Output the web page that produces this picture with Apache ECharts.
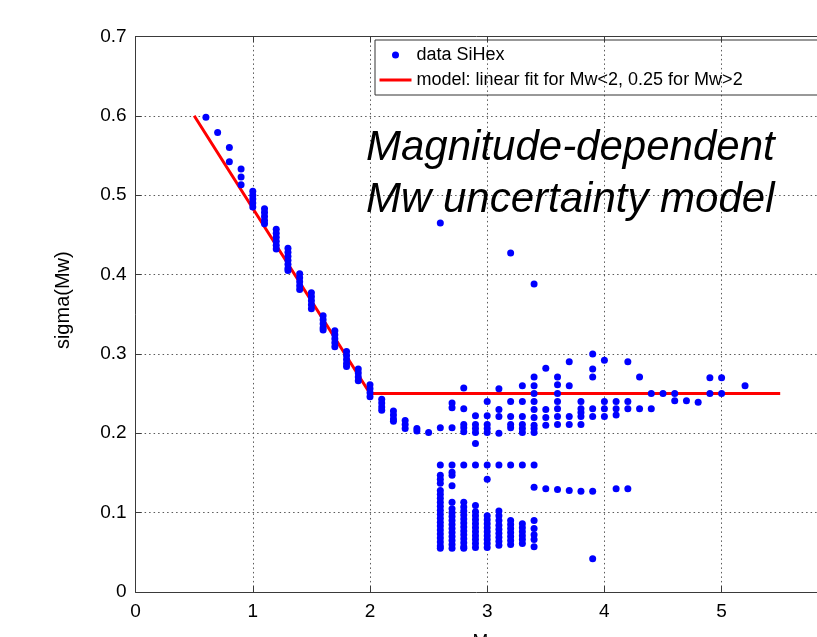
<!DOCTYPE html>
<html>
<head>
<meta charset="utf-8">
<script src="https://cdn.jsdelivr.net/npm/echarts@6/dist/echarts.min.js"></script>
<style>
html,body{margin:0;padding:0;background:#fff;}
#chart{width:817px;height:637px;}
</style>
</head>
<body>
<div id="chart"></div>
<script>
// Mw value of each data column
const mwColumns = [0.6, 0.7, 0.8, 0.9, 1.0, 1.1, 1.2, 1.3, 1.4, 1.5, 1.6, 1.7, 1.8, 1.9, 2.0,
  2.1, 2.2, 2.3, 2.4, 2.5, 2.6, 2.7, 2.8, 2.9, 3.0, 3.1, 3.2, 3.3, 3.4, 3.5, 3.6, 3.7, 3.8, 3.9,
  4.0, 4.1, 4.2, 4.3, 4.4, 4.5, 4.6, 4.7, 4.8, 4.9, 5.0, 5.2];
// sigma(Mw) values observed in each column
const sigmaColumns = [
  [0.598],
  [0.579],
  [0.560, 0.542],
  [0.533, 0.523, 0.513],
  [0.505, 0.500, 0.495, 0.490, 0.485],
  [0.483, 0.478, 0.473, 0.468, 0.464],
  [0.457, 0.452, 0.447, 0.442, 0.437, 0.432],
  [0.433, 0.428, 0.423, 0.418, 0.413, 0.408, 0.405],
  [0.401, 0.396, 0.391, 0.386, 0.381],
  [0.377, 0.372, 0.367, 0.362, 0.357],
  [0.348, 0.343, 0.338, 0.333, 0.330],
  [0.329, 0.324, 0.319, 0.314, 0.309],
  [0.303, 0.298, 0.293, 0.288, 0.284],
  [0.281, 0.276, 0.271, 0.266],
  [0.261, 0.256, 0.251, 0.246],
  [0.243, 0.238, 0.233, 0.229],
  [0.228, 0.223, 0.218, 0.215],
  [0.216, 0.211, 0.206],
  [0.206, 0.203],
  [0.201],
  [0.465, 0.207, 0.160, 0.147, 0.142, 0.137, 0.128, 0.123, 0.118, 0.113, 0.108, 0.103, 0.098, 0.093, 0.088, 0.083, 0.078, 0.073, 0.068, 0.063, 0.058, 0.055],
  [0.238, 0.232, 0.207, 0.160, 0.151, 0.147, 0.134, 0.113, 0.105, 0.100, 0.095, 0.090, 0.085, 0.080, 0.075, 0.070, 0.065, 0.060, 0.055],
  [0.257, 0.231, 0.211, 0.207, 0.202, 0.160, 0.113, 0.107, 0.102, 0.097, 0.092, 0.087, 0.082, 0.077, 0.072, 0.067, 0.062, 0.057, 0.055],
  [0.222, 0.211, 0.206, 0.201, 0.187, 0.160, 0.109, 0.101, 0.096, 0.091, 0.086, 0.081, 0.076, 0.071, 0.066, 0.061, 0.056],
  [0.240, 0.222, 0.211, 0.206, 0.201, 0.160, 0.142, 0.096, 0.091, 0.086, 0.081, 0.076, 0.071, 0.066, 0.061, 0.056],
  [0.256, 0.230, 0.221, 0.200, 0.160, 0.102, 0.096, 0.090, 0.084, 0.079, 0.074, 0.069, 0.064, 0.059],
  [0.427, 0.240, 0.221, 0.211, 0.207, 0.160, 0.090, 0.085, 0.080, 0.075, 0.070, 0.065, 0.060],
  [0.260, 0.240, 0.221, 0.211, 0.206, 0.201, 0.160, 0.086, 0.081, 0.076, 0.071, 0.066, 0.061],
  [0.388, 0.271, 0.260, 0.250, 0.240, 0.230, 0.220, 0.210, 0.206, 0.201, 0.160, 0.132, 0.090, 0.080, 0.072, 0.066, 0.057],
  [0.282, 0.230, 0.220, 0.210, 0.130],
  [0.271, 0.261, 0.250, 0.240, 0.231, 0.221, 0.211, 0.129],
  [0.290, 0.260, 0.221, 0.211, 0.128],
  [0.240, 0.231, 0.226, 0.221, 0.211, 0.127],
  [0.300, 0.281, 0.271, 0.231, 0.221, 0.127, 0.042],
  [0.292, 0.240, 0.231, 0.221],
  [0.240, 0.231, 0.223, 0.130],
  [0.290, 0.240, 0.231, 0.130],
  [0.271, 0.231],
  [0.250, 0.231],
  [0.250],
  [0.250, 0.241],
  [0.241],
  [0.239],
  [0.270, 0.250],
  [0.270, 0.250],
  [0.260]
];
// model: linear fit for Mw<2, 0.25 for Mw>2
const modelMw = [0.5, 2.0, 5.5];
const modelSigma = [0.6, 0.25, 0.25];
// axis ticks
const xTicks = [0, 1, 2, 3, 4, 5, 6];
const yTicks = [0, 0.1, 0.2, 0.3, 0.4, 0.5, 0.6, 0.7];

const scatterData = [];
mwColumns.forEach((mw, i) => sigmaColumns[i].forEach(s => scatterData.push([mw, s])));
const modelData = modelMw.map((m, i) => [m, modelSigma[i]]);

const FONT = "'Liberation Sans', Arial, Helvetica, sans-serif";
const gridLine = { show: true, lineStyle: { color: '#5a5a5a', width: 1, type: [1.5, 3] } };
const axisLineStyle = { show: true, lineStyle: { color: '#3a3a3a', width: 1 } };
const tickStyle = { show: true, inside: true, length: 6, lineStyle: { color: '#3a3a3a' } };

const chart = echarts.init(document.getElementById('chart'), null, { renderer: 'canvas' });
chart.setOption({
  animation: false,
  backgroundColor: '#ffffff',
  title: {
    text: 'Magnitude-dependent\nMw uncertainty model',
    left: 366, top: 122, padding: 0,
    textStyle: { fontFamily: FONT, fontStyle: 'italic', fontWeight: 'normal', fontSize: 42, lineHeight: 52, color: '#000' }
  },
  legend: {
    orient: 'vertical',
    left: 375, top: 40,
    padding: [6, 120, 6, 3],
    itemGap: 7,
    itemWidth: 32, itemHeight: 7,
    borderColor: '#333', borderWidth: 1,
    textStyle: { fontFamily: FONT, fontSize: 18, color: '#000' },
    data: [
      { name: 'data SiHex', icon: 'circle' },
      { name: 'model: linear fit for Mw<2, 0.25 for Mw>2', itemStyle: { opacity: 0 }, lineStyle: { width: 3, color: '#ff0000' } }
    ]
  },
  grid: { left: 135.6, top: 36.4, width: 703.2, bottom: 45, show: false, containLabel: false, outerBoundsMode: 'none' },
  xAxis: [{
    type: 'value', min: xTicks[0], max: xTicks[xTicks.length - 1], interval: 1,
    position: 'bottom',
    axisLine: axisLineStyle,
    axisTick: tickStyle,
    axisLabel: { fontFamily: FONT, fontSize: 19, color: '#000', margin: 10 },
    splitLine: gridLine,
    name: 'Mw', nameLocation: 'middle', nameGap: 40, nameMoveOverlap: false,
    nameTextStyle: { fontFamily: FONT, fontSize: 19, color: '#000' }
  }, {
    type: 'value', min: xTicks[0], max: xTicks[xTicks.length - 1], interval: 1,
    position: 'top',
    axisLine: axisLineStyle,
    axisTick: tickStyle,
    axisLabel: { show: false },
    splitLine: { show: false }
  }],
  yAxis: [{
    type: 'value', min: yTicks[0], max: yTicks[yTicks.length - 1], interval: 0.1,
    position: 'left',
    axisLine: axisLineStyle,
    axisTick: tickStyle,
    axisLabel: { fontFamily: FONT, fontSize: 19, color: '#000', margin: 9,
      formatter: v => (v === 0 ? '0' : v.toFixed(1)) },
    splitLine: gridLine,
    name: 'sigma(Mw)', nameLocation: 'middle', nameGap: 62, nameRotate: 90, nameMoveOverlap: false,
    nameTextStyle: { fontFamily: FONT, fontSize: 20, color: '#000', padding: [0, 0, 0, 28] }
  }],
  series: [{
    name: 'data SiHex',
    type: 'scatter',
    data: scatterData,
    symbol: 'circle',
    symbolSize: 7,
    itemStyle: { color: '#0000ff', opacity: 1 },
    z: 3
  }, {
    name: 'model: linear fit for Mw<2, 0.25 for Mw>2',
    type: 'line',
    data: modelData,
    symbol: 'none',
    lineStyle: { color: '#ff0000', width: 3 },
    itemStyle: { color: '#ff0000' },
    z: 2
  }]
});
</script>
</body>
</html>
